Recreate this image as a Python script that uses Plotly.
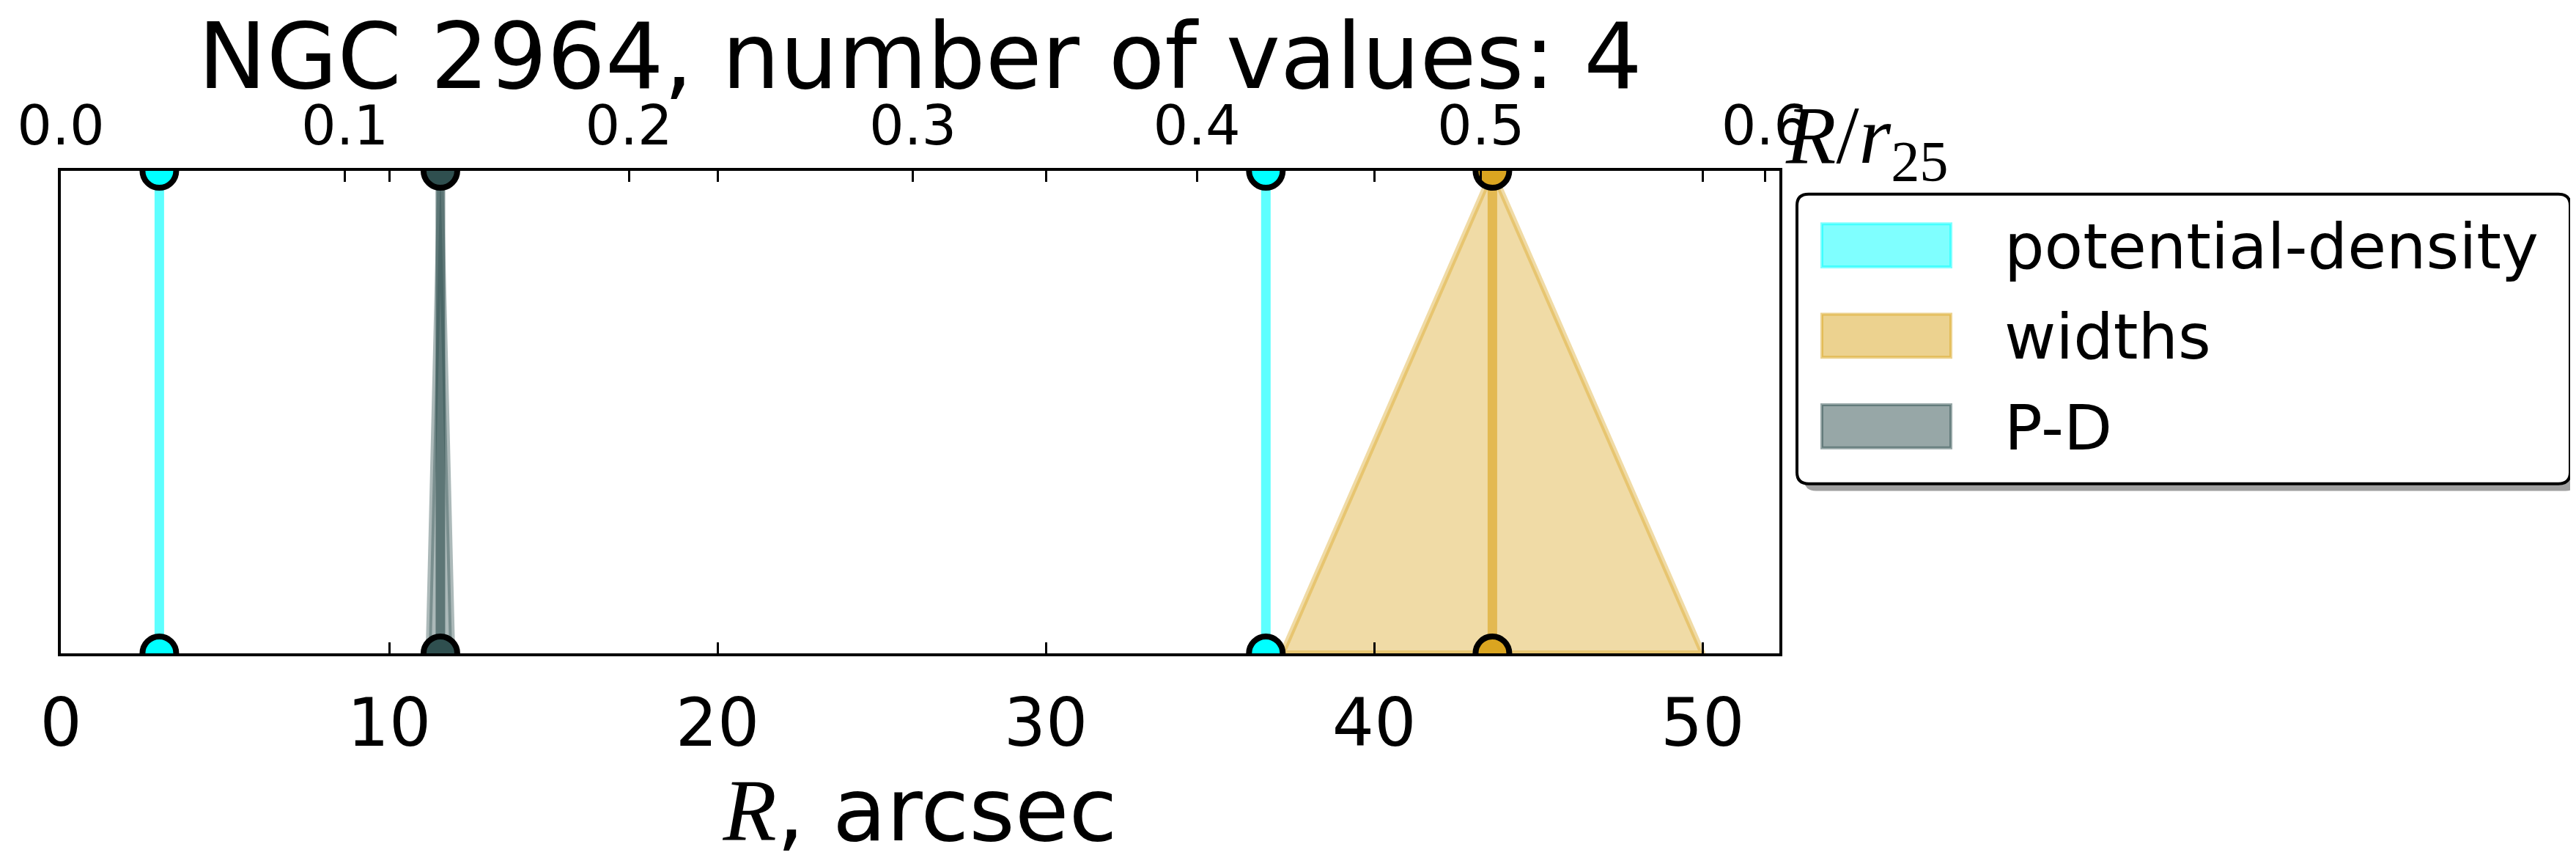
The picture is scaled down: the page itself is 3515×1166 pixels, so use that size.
import plotly.graph_objects as go

# NGC 2964 radii (arcsec) of the features found by each method
galaxy = "NGC 2964"
r25 = 86.5  # arcsec, scale for the top axis

names = ["potential-density", "widths", "P-D"]
colors = ["#00FFFF", "#DAA520", "#2F4F4F"]
radii = [[3.0, 36.7], [43.6], [11.56]]
half_widths = [[0.0, 0.0], [6.4], [0.36]]

x_max = 52.34
bottom_ticks = [0, 10, 20, 30, 40, 50]
top_ticks = [0.0, 0.1, 0.2, 0.3, 0.4, 0.5, 0.6]

W, H = 3515, 1166
L, R, T, B = 75, 1095, 225, 258


def rgba(c, a):
    c = c.lstrip("#")
    return "rgba(%d,%d,%d,%.2f)" % (int(c[0:2], 16), int(c[2:4], 16), int(c[4:6], 16), a)


def px(x):  # pixel -> paper
    return (x - L) / (W - L - R)


def py(y):
    return (H - B - y) / (H - T - B)


n_values = sum(len(r) for r in radii)

fig = go.Figure()

# filled "error" triangles
for name, col, rs, ws in zip(names, colors, radii, half_widths):
    for r, w in zip(rs, ws):
        if w > 0:
            fig.add_trace(go.Scatter(
                x=[r - w, r, r + w, r - w], y=[0, 1, 0, 0],
                fill="toself", fillcolor=rgba(col, 0.4),
                line=dict(color=rgba(col, 0.4), width=8),
                mode="lines", hoverinfo="skip", showlegend=False))

# centre lines
for name, col, rs in zip(names, colors, radii):
    for r in rs:
        fig.add_trace(go.Scatter(
            x=[r, r], y=[0, 1], mode="lines",
            line=dict(color=rgba(col, 0.63), width=13),
            name=name, showlegend=False))

# end markers
for name, col, rs in zip(names, colors, radii):
    for r in rs:
        fig.add_trace(go.Scatter(
            x=[r, r], y=[0, 1], mode="markers", cliponaxis=True,
            marker=dict(size=46, color=col, line=dict(color="black", width=8)),
            name=name, showlegend=False))

# top axis in units of r25
fig.add_trace(go.Scatter(x=[0, x_max / r25], y=[None, None], xaxis="x2",
                         mode="markers", showlegend=False, hoverinfo="skip"))

fig.update_layout(
    width=W, height=H, autosize=False,
    margin=dict(l=L, r=R, t=T, b=B, pad=0),
    paper_bgcolor="white", plot_bgcolor="white",
    font=dict(family="DejaVu Sans", color="black"),
    title=dict(text="%s, number of values: %d" % (galaxy, n_values),
               font=dict(size=125), x=0.5, xref="paper", xanchor="center",
               y=1 - 68 / H, yanchor="middle", yref="container"),
    xaxis=dict(range=[0, x_max], tickvals=bottom_ticks, ticks="inside",
               ticklen=15, tickwidth=2.5, tickcolor="black",
               showline=True, linewidth=4, linecolor="black", mirror="ticks",
               showgrid=False, zeroline=False, tickfont=dict(size=90),
               ticklabelstandoff=14,
               title=dict(text="<span style=\"font-family:Liberation Serif\"><i>R</i></span>, arcsec",
                          font=dict(size=120), standoff=40)),
    xaxis2=dict(range=[0, x_max / r25], overlaying="x", side="top", anchor="y",
                tickvals=top_ticks, ticktext=["%.1f" % t for t in top_ticks],
                ticks="inside", ticklen=15, tickwidth=2.5, tickcolor="black",
                showline=False, showgrid=False, zeroline=False,
                tickfont=dict(size=75), ticklabelstandoff=20),
    yaxis=dict(range=[0, 1], showticklabels=False, ticks="",
               showline=True, linewidth=4, linecolor="black", mirror=True,
               showgrid=False, zeroline=False),
    showlegend=False,
)

# top axis label
fig.add_annotation(text="<i>R</i>/<i>r</i><sub>25</sub>", xref="paper", yref="paper",
                   x=px(2426), y=py(258), xanchor="left", yanchor="bottom",
                   showarrow=False, font=dict(family="Liberation Serif", size=112))

# legend box drawn by hand (rounded, with shadow)
def rounded(x0, y0, x1, y1, r):
    rx, ry = r / (W - L - R), r / (H - T - B)
    return ("M%f,%f L%f,%f Q%f,%f %f,%f L%f,%f Q%f,%f %f,%f L%f,%f Q%f,%f %f,%f "
            "L%f,%f Q%f,%f %f,%f Z" % (
                x0 + rx, y1, x1 - rx, y1, x1, y1, x1, y1 - ry,
                x1, y0 + ry, x1, y0, x1 - rx, y0,
                x0 + rx, y0, x0, y0, x0, y0 + ry,
                x0, y1 - ry, x0, y1, x0 + rx, y1))


bx0, bx1, by0, by1 = 2444, 3499, 258, 668
fig.add_shape(type="path", xref="paper", yref="paper", layer="above",
              path=rounded(px(bx0 + 10), py(by1 + 10), px(bx1 + 10), py(by0 + 10), 16),
              fillcolor="#A0A0A0", line=dict(width=0))
fig.add_shape(type="path", xref="paper", yref="paper", layer="above",
              path=rounded(px(bx0), py(by1), px(bx1), py(by0), 16),
              fillcolor="white", line=dict(color="black", width=4))

for i, (name, col) in enumerate(zip(names, colors)):
    top = 298 + i * 128
    fig.add_shape(type="rect", xref="paper", yref="paper", layer="above",
                  x0=px(2478), x1=px(2654), y0=py(top + 63), y1=py(top + 2),
                  fillcolor=rgba(col, 0.5), line=dict(color=rgba(col, 0.5), width=4))
    fig.add_annotation(text=name, xref="paper", yref="paper",
                       x=px(2725), y=py(top + 34), xanchor="left", yanchor="middle",
                       showarrow=False, font=dict(size=86))

fig.write_html("out.html")
